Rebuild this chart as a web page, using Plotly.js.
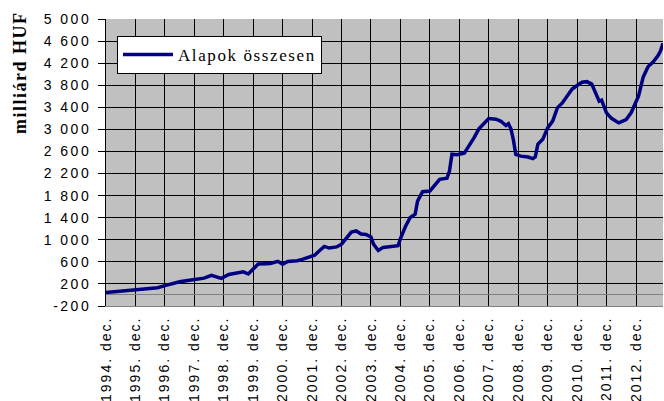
<!DOCTYPE html>
<html><head><meta charset="utf-8">
<script src="https://cdn.plot.ly/plotly-3.0.1.min.js"></script>
<style>
html,body{margin:0;padding:0;background:#fff;}
#chart{width:664px;height:401px;}
.ytick text{letter-spacing:2.5px;}
.xtick text{letter-spacing:2px;}
.legendtext{letter-spacing:1.6px;}
.annotation-text{letter-spacing:1.5px;}
</style></head><body><div id="chart"></div>
<script>
// Months (YYYY-MM) and fund totals (billion HUF)
const months = [
 "1994-12","1995-04","1995-08","1995-12","1996-04","1996-09","1996-12","1997-03","1997-06","1997-10",
 "1998-02","1998-04","1998-07","1998-09","1998-11","1999-02","1999-05","1999-08","1999-10","1999-12",
 "2000-02","2000-05","2000-07","2000-10","2000-12","2001-02","2001-06","2001-08","2001-11","2002-01",
 "2002-03","2002-05","2002-07","2002-10","2002-12","2003-02","2003-04","2003-06","2003-08","2003-10",
 "2003-12","2004-01","2004-03","2004-05","2004-08","2004-11","2004-12","2005-02","2005-04","2005-06",
 "2005-07","2005-09","2005-12","2006-02","2006-04","2006-07","2006-08","2006-09","2006-11","2007-02",
 "2007-04","2007-06","2007-08","2007-11","2007-12","2008-03","2008-05","2008-07","2008-08","2008-09",
 "2008-10","2008-11","2009-01","2009-04","2009-06","2009-07","2009-08","2009-10","2009-12","2010-02",
 "2010-04","2010-06","2010-08","2010-10","2010-12","2011-02","2011-04","2011-06","2011-07","2011-09",
 "2011-10","2011-12","2012-02","2012-05","2012-08","2012-10","2013-01","2013-03","2013-05","2013-07",
 "2013-09","2013-10","2013-11"
];
const values = [
 45,60,75,90,100,130,170,210,240,265,
 290,305,355,330,300,370,390,420,380,470,
 560,565,570,610,555,605,620,645,690,720,
 800,880,850,870,920,1045,1140,1160,1105,1095,
 1050,920,805,862,873,892,1020,1240,1404,1463,
 1700,1870,1884,1992,2095,2115,2245,2550,2540,2570,
 2700,2847,3010,3160,3196,3185,3147,3070,3105,3010,
 2817,2546,2515,2500,2470,2504,2730,2820,3028,3150,
 3390,3479,3610,3730,3795,3855,3865,3820,3720,3510,
 3530,3300,3200,3118,3178,3300,3600,3950,4140,4220,
 4340,4420,4560
];
const seriesName = "Alapok összesen";
const xTickVals = ["1994-12-01","1995-12-01","1996-12-01","1997-12-01","1998-12-01","1999-12-01",
 "2000-12-01","2001-12-01","2002-12-01","2003-12-01","2004-12-01","2005-12-01","2006-12-01",
 "2007-12-01","2008-12-01","2009-12-01","2010-12-01","2011-12-01","2012-12-01"];
const xTickLabels = ["1994. dec.","1995. dec.","1996. dec.","1997. dec.","1998. dec.","1999. dec.",
 "2000. dec.","2001. dec.","2002. dec.","2003. dec.","2004. dec.","2005. dec.","2006. dec.",
 "2007. dec.","2008. dec.","2009. dec.","2010. dec.","2011. dec.","2012. dec."];
const yTickVals = [-200,200,600,1000,1400,1800,2200,2600,3000,3400,3800,4200,4600,5000];
const yTickLabels = ["-200","200","600","1 000","1 400","1 800","2 200","2 600","3 000","3 400","3 800","4 200","4 600","5 000"];
const yTitle = "milliárd HUF";

const trace = {
  x: months.map(m => m + "-01"),
  y: values,
  type: "scatter",
  mode: "lines",
  name: seriesName,
  line: {color: "#000080", width: 3.5}
};

const layout = {
  width: 664, height: 401,
  margin: {l: 106, r: 1, t: 19, b: 95, pad: 0},
  paper_bgcolor: "#ffffff",
  plot_bgcolor: "#c0c0c0",
  showlegend: true,
  legend: {
    x: 0.0197, y: 0.9408, xanchor: "left", yanchor: "top",
    bgcolor: "#ffffff", bordercolor: "#000000", borderwidth: 1,
    font: {family: "Liberation Serif, Times New Roman, serif", size: 17, color: "#000"},
    itemwidth: 50
  },
  xaxis: {
    type: "date",
    range: ["1994-12-01", "2013-11-01"],
    tickmode: "array", tickvals: xTickVals, ticktext: xTickLabels,
    tickangle: -90,
    showgrid: true, gridcolor: "#000000", gridwidth: 1,
    showline: true, linecolor: "#808080", linewidth: 1,
    ticks: "", zeroline: false,
    ticklabelstandoff: 4,
    tickfont: {family: "Liberation Sans, Arial, sans-serif", size: 14, color: "#000"}
  },
  yaxis: {
    range: [-200, 5000],
    tickmode: "array", tickvals: yTickVals, ticktext: yTickLabels,
    showgrid: true, gridcolor: "#000000", gridwidth: 1,
    zeroline: true, zerolinecolor: "#808080", zerolinewidth: 1,
    showline: true, linecolor: "#000000", linewidth: 1,
    ticks: "outside", ticklen: 7, tickcolor: "#000000",
    ticklabelstandoff: 4,
    tickfont: {family: "Liberation Sans, Arial, sans-serif", size: 14, color: "#000"}
  },
  annotations: [{
    text: "<b>" + yTitle + "</b>",
    xref: "paper", yref: "paper",
    x: (20 - 106) / 557, y: (306 - 73) / 287,
    xanchor: "center", yanchor: "middle",
    textangle: -90, showarrow: false,
    font: {family: "Liberation Serif, Times New Roman, serif", size: 18, color: "#000"}
  }]
};

Plotly.newPlot("chart", [trace], layout, {displayModeBar: false, staticPlot: true});
</script></body></html>
